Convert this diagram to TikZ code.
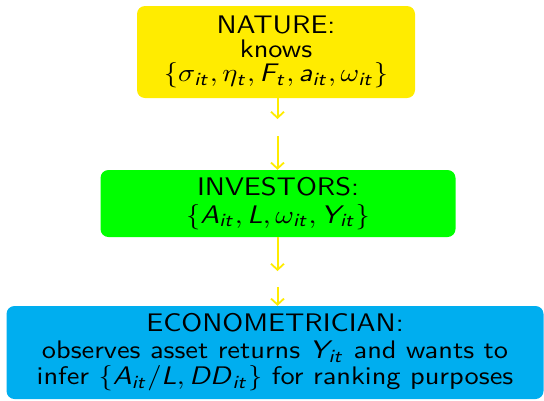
\documentclass[tikz,border=0pt]{standalone}
\usepackage{graphicx}
\usetikzlibrary{arrows.meta}
\DeclareMathAlphabet{\mathsfit}{OT1}{cmss}{m}{sl}
\definecolor{natyellow}{RGB}{255,236,0}
\definecolor{invgreen}{RGB}{0,255,0}
\definecolor{ecocyan}{RGB}{0,174,239}
\newcommand\sv[1]{\mathsfit{#1}}
\newcommand\stretchtext[3]{\scalebox{2.84}[2.54]{\parbox{#1}{\centering\sffamily\fontsize{10}{#2}\selectfont #3}}}
\begin{document}
\begin{tikzpicture}[x=1pt,y=-1pt,
  box/.style={rounded corners=8pt, inner sep=0pt, align=center, text=black},
  flow/.style={draw=natyellow, line width=2pt, -{Straight Barb[length=6pt,width=13pt,line width=1.8pt]}}]
\useasboundingbox (0,0) rectangle (544,400);
\node[box, fill=natyellow, minimum width=278pt, minimum height=92pt] (nature) at (276,52)
  {\stretchtext{90pt}{9.5pt}{NATURE:\\knows\\$\{\sigma_{\sv{it}}, \eta_{\sv{t}}, \sv{F}_{\sv{t}}, \sv{a}_{\sv{it}}, \omega_{\sv{it}}\}$}};
\node[box, fill=invgreen, minimum width=355pt, minimum height=67pt] (inv) at (278,203.5)
  {\stretchtext{110pt}{10.75pt}{INVESTORS:\\$\{\sv{A}_{\sv{it}}, \sv{L}, \omega_{\sv{it}}, \sv{Y}_{\sv{it}}\}$}};
\node[box, fill=ecocyan, minimum width=537pt, minimum height=93pt] (eco) at (275,352.5)
  {\stretchtext{180pt}{10.45pt}{ECONOMETRICIAN:\\observes asset returns $\sv{Y}_{\sv{it}}$ and wants to\\infer $\{\sv{A}_{\sv{it}}/\sv{L}, \sv{DD}_{\sv{it}}\}$ for ranking purposes}};
\coordinate (a1) at (277.5,119);
\coordinate (a2) at (277.5,136);
\coordinate (b1) at (277.5,271);
\coordinate (b2) at (277.5,287);
\draw[flow] (nature.south -| a1) -- (a1);
\draw[flow] (a2) -- (inv.north -| a2);
\draw[flow] (inv.south -| b1) -- (b1);
\draw[flow] (b2) -- (eco.north -| b2);
\end{tikzpicture}
\end{document}
